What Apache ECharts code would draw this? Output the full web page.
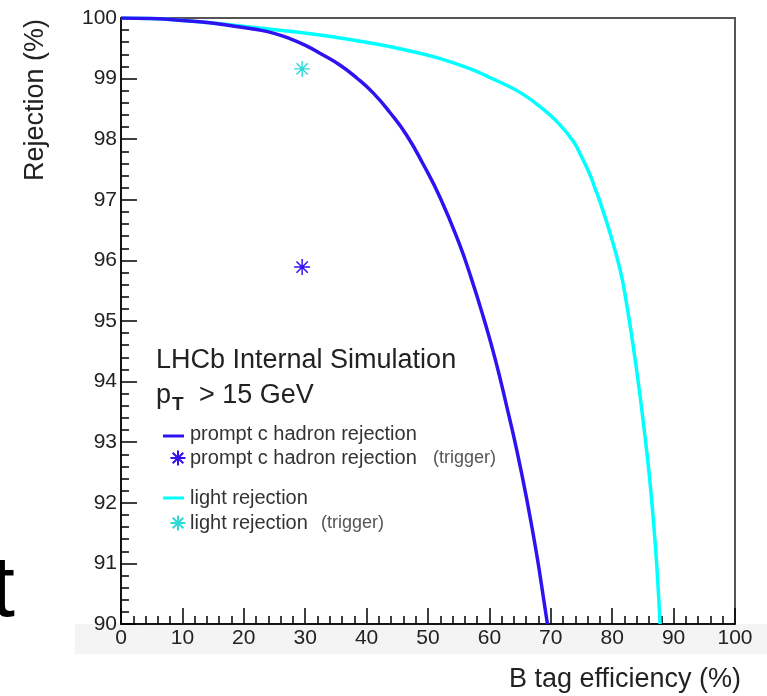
<!DOCTYPE html>
<html>
<head>
<meta charset="utf-8">
<script src="https://cdn.jsdelivr.net/npm/echarts@6/dist/echarts.min.js"></script>
<style>html,body{margin:0;padding:0;background:#fff;}#chart{width:767px;height:696px;}</style>
</head>
<body>
<div id="chart"></div>
<script>
// ---- data ----
const promptEff = [0, 5, 10, 14.5, 19.4, 22.1, 24.8, 27.5, 30.2, 32.9, 35.7, 38.4, 41.1, 43.8, 46.5, 49.2, 52, 55, 57, 59, 61, 62.8, 64.5, 66.1, 67.7, 69, 69.45];
const promptRej = [100, 99.99, 99.96, 99.92, 99.85, 99.81, 99.75, 99.66, 99.54, 99.39, 99.22, 99.01, 98.76, 98.44, 98.07, 97.59, 97.03, 96.3, 95.72, 95.07, 94.35, 93.6, 92.85, 92.05, 91.15, 90.3, 90.0];
const lightEff = [0, 5, 10, 14.5, 19.4, 24.8, 30.2, 35.7, 41.1, 46, 52, 57.4, 60, 62.8, 65.5, 68.2, 71, 73.7, 75, 76.4, 77.2, 78, 79.5, 81.3, 82.4, 83.4, 84.3, 85.1, 86, 86.7, 87.3, 87.8];
const lightRej = [100, 99.99, 99.96, 99.92, 99.87, 99.81, 99.75, 99.67, 99.58, 99.48, 99.33, 99.14, 99.02, 98.89, 98.74, 98.54, 98.29, 97.96, 97.71, 97.41, 97.19, 96.97, 96.5, 95.84, 95.25, 94.6, 93.95, 93.3, 92.5, 91.72, 90.9, 90.0];
const triggerEff = [29.5];
const promptTriggerRej = [95.89];
const lightTriggerRej = [99.16];
const xTicks = [0, 10, 20, 30, 40, 50, 60, 70, 80, 90, 100];
const yTicks = [90, 91, 92, 93, 94, 95, 96, 97, 98, 99, 100];
const seriesNames = ['prompt c hadron rejection', 'prompt c hadron rejection', 'light rejection', 'light rejection'];

// ---- style ----
const BLUE = '#2e12f0';
const CYAN = '#00ffff';
const BLUE_STAR = '#3310f0';
const CYAN_STAR = '#30dada';
const FONT = '"Liberation Sans", Arial, sans-serif';
const STAR = 'path://M0,9.1L20,9.1L20,10.9L0,10.9Z M9.1,0L10.9,0L10.9,20L9.1,20Z M2.3,3.6L3.6,2.3L17.7,16.4L16.4,17.7Z M16.4,2.3L17.7,3.6L3.6,17.7L2.3,16.4Z';

function zip(a, b) { return a.map((v, i) => [v, b[i]]); }

function starLines(cx, cy, r, color) {
  const els = [];
  for (let k = 0; k < 4; k++) {
    const ang = k * Math.PI / 4;
    const dx = Math.cos(ang) * r, dy = Math.sin(ang) * r;
    els.push({ type: 'line', shape: { x1: cx - dx, y1: cy - dy, x2: cx + dx, y2: cy + dy },
      style: { stroke: color, lineWidth: 2 }, z: 100 });
  }
  return els;
}

const chart = echarts.init(document.getElementById('chart'), null, { renderer: 'canvas' });

const graphics = [
  { type: 'rect', shape: { x: 75, y: 624, width: 692, height: 30 }, style: { fill: '#f4f4f4' }, z: -10 },
  { type: 'text', style: { text: 't', x: 15, y: 636, align: 'right', verticalAlign: 'bottom', font: '88px ' + FONT, fill: '#000' } },
  { type: 'text', rotation: Math.PI / 2, x: 36, y: 100, style: { text: 'Rejection (%)', x: 0, y: 0, align: 'center', verticalAlign: 'middle', font: '27px ' + FONT, fill: '#222' } },
  { type: 'text', style: { text: 'B tag efficiency (%)', x: 741, y: 680, align: 'right', verticalAlign: 'middle', font: '27px ' + FONT, fill: '#222' } },
  { type: 'text', style: { text: 'LHCb Internal Simulation', x: 156, y: 361, align: 'left', verticalAlign: 'middle', font: '27px ' + FONT, fill: '#222' } },
  { type: 'text', style: { text: 'p', x: 156, y: 396, align: 'left', verticalAlign: 'middle', font: '27px ' + FONT, fill: '#222' } },
  { type: 'text', style: { text: 'T', x: 172, y: 405, align: 'left', verticalAlign: 'middle', font: 'bold 19px ' + FONT, fill: '#222' } },
  { type: 'text', style: { text: '> 15 GeV', x: 199, y: 396, align: 'left', verticalAlign: 'middle', font: '27px ' + FONT, fill: '#222' } },
  // legend
  { type: 'line', shape: { x1: 163, y1: 436, x2: 184, y2: 436 }, style: { stroke: BLUE, lineWidth: 3 } },
  { type: 'text', style: { text: seriesNames[0], x: 190, y: 434, align: 'left', verticalAlign: 'middle', font: '20px ' + FONT, fill: '#333' } },
  { type: 'text', style: { text: seriesNames[1] + ' ', x: 190, y: 458, align: 'left', verticalAlign: 'middle', font: '20px ' + FONT, fill: '#333' } },
  { type: 'text', style: { text: '(trigger)', x: 433, y: 458, align: 'left', verticalAlign: 'middle', font: '18px ' + FONT, fill: '#555' } },
  { type: 'line', shape: { x1: 163, y1: 498, x2: 184, y2: 498 }, style: { stroke: CYAN, lineWidth: 3 } },
  { type: 'text', style: { text: seriesNames[2], x: 190, y: 498, align: 'left', verticalAlign: 'middle', font: '20px ' + FONT, fill: '#333' } },
  { type: 'text', style: { text: seriesNames[3] + ' ', x: 190, y: 523, align: 'left', verticalAlign: 'middle', font: '20px ' + FONT, fill: '#333' } },
  { type: 'text', style: { text: '(trigger)', x: 321, y: 523, align: 'left', verticalAlign: 'middle', font: '18px ' + FONT, fill: '#555' } }
].concat(starLines(178, 458, 7.5, BLUE_STAR), starLines(178, 523, 7.5, CYAN_STAR));

const axisCommon = {
  type: 'value',
  axisLine: { show: true, onZero: false, lineStyle: { color: '#000', width: 1.5 } },
  axisTick: { show: true, inside: true, length: 16, lineStyle: { color: '#000', width: 1.5 } },
  minorTick: { show: true, splitNumber: 5, length: 8, lineStyle: { color: '#000', width: 1.5 } },
  splitLine: { show: false },
  minorSplitLine: { show: false },
  axisLabel: { fontSize: 21, color: '#222', fontFamily: FONT, margin: 4 }
};

chart.setOption({
  animation: false,
  backgroundColor: '#fff',
  grid: { left: 121, right: 32, top: 18, bottom: 72, show: true, borderColor: '#555', borderWidth: 2, backgroundColor: 'transparent' },
  xAxis: Object.assign({}, axisCommon, {
    min: xTicks[0], max: xTicks[xTicks.length - 1], interval: xTicks[1] - xTicks[0]
  }),
  yAxis: Object.assign({}, axisCommon, {
    min: yTicks[0], max: yTicks[yTicks.length - 1], interval: yTicks[1] - yTicks[0]
  }),
  series: [
    { name: seriesNames[0], type: 'line', data: zip(promptEff, promptRej), showSymbol: false, smooth: 0.5,
      lineStyle: { color: BLUE, width: 3.5 }, itemStyle: { color: BLUE }, z: 3 },
    { name: seriesNames[2], type: 'line', data: zip(lightEff, lightRej), showSymbol: false, smooth: 0.5,
      lineStyle: { color: CYAN, width: 3.5 }, itemStyle: { color: CYAN }, z: 2 },
    { name: seriesNames[1] + ' (trigger)', type: 'scatter', data: zip(triggerEff, promptTriggerRej), symbol: STAR, symbolSize: 16,
      itemStyle: { color: BLUE_STAR, opacity: 1 }, z: 4 },
    { name: seriesNames[3] + ' (trigger)', type: 'scatter', data: zip(triggerEff, lightTriggerRej), symbol: STAR, symbolSize: 16,
      itemStyle: { color: CYAN_STAR, opacity: 1 }, z: 4 }
  ],
  graphic: graphics
});
</script>
</body>
</html>
